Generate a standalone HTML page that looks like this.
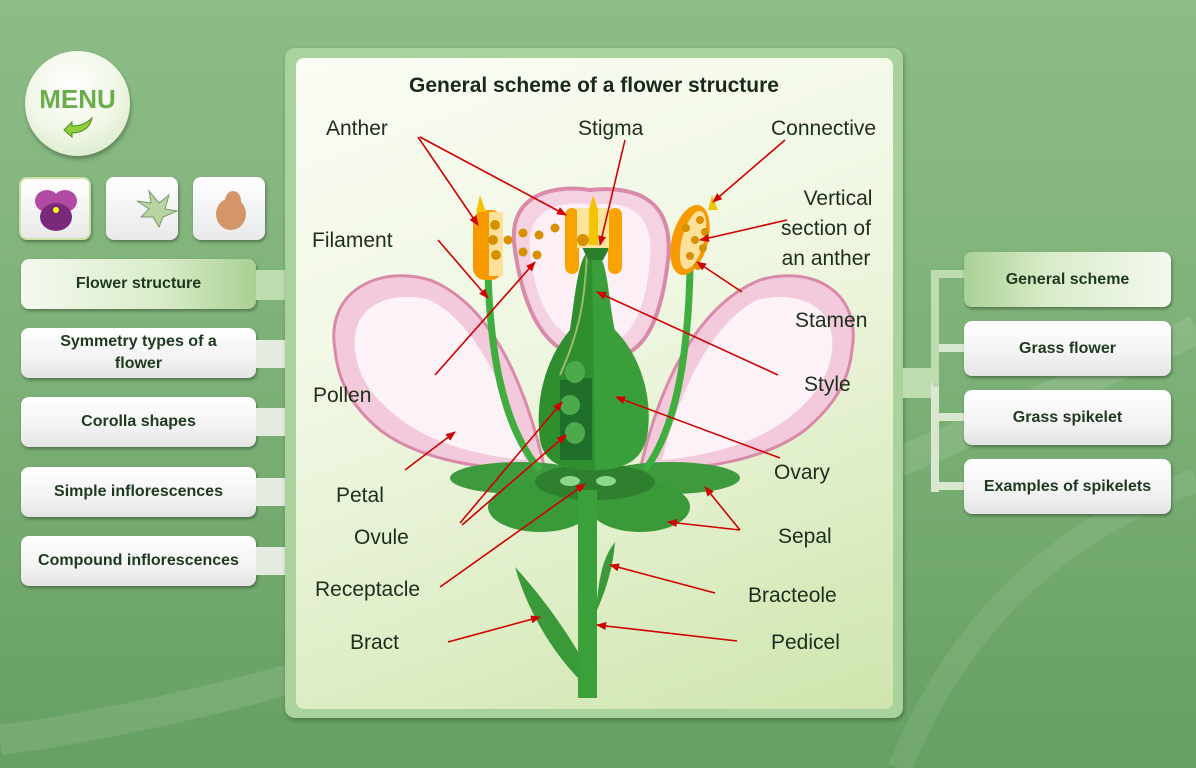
<!DOCTYPE html>
<html><head><meta charset="utf-8"><style>
*{margin:0;padding:0;box-sizing:border-box}
body{width:1196px;height:768px;overflow:hidden;position:relative;font-family:"Liberation Sans",sans-serif;background:linear-gradient(180deg,#8dbd87 0%,#7cb076 50%,#66a062 100%)}
.btn{position:absolute;background:linear-gradient(180deg,#fff 0%,#f3f3f3 60%,#e4e4e4 100%);border-radius:8px;box-shadow:1px 2px 3px rgba(0,0,0,.35);font-weight:bold;font-size:16px;color:#1e3a1e;display:flex;align-items:center;justify-content:center;text-align:center;line-height:22px}
.act{background:linear-gradient(90deg,#f4f9ee 0%,#d9ecc9 60%,#a9d094 100%)}
.tab{position:absolute;background:#e4ebe0;}
.ic{position:absolute;width:72px;height:63px;border-radius:8px;background:linear-gradient(#fff,#e9e9e9);box-shadow:1px 2px 3px rgba(0,0,0,.35)}
</style></head><body>
<svg style="position:absolute;left:0;top:0" width="1196" height="768">
<path d="M0,740 C300,700 700,560 1196,330" stroke="rgba(255,255,255,0.1)" stroke-width="30" fill="none"/>
<path d="M900,768 C960,620 1060,530 1196,480" stroke="rgba(255,255,255,0.08)" stroke-width="24" fill="none"/>
</svg>
<div style="position:absolute;left:25px;top:51px;width:105px;height:105px;border-radius:50%;background:radial-gradient(circle at 45% 35%,#ffffff 0%,#f1f7e8 50%,#cfe4bb 100%);box-shadow:1px 3px 4px rgba(0,0,0,.3)"></div>
<div style="position:absolute;left:25px;top:84px;width:105px;text-align:center;font-weight:bold;font-size:26px;color:#6aae4c">MENU</div>
<svg style="position:absolute;left:58px;top:114px" width="40" height="24"><path d="M6,16 L14,8 L14,12 C24,12 30,8 34,4 C32,14 24,19 14,19 L14,23 Z" fill="#8fcf3a" stroke="#4a8a2a" stroke-width="1"/></svg>
<div class="ic" style="left:19px;top:177px;border:2px solid #cfe0a5"></div>
<div class="ic" style="left:106px;top:177px"></div>
<div class="ic" style="left:193px;top:177px"></div>
<svg style="position:absolute;left:19px;top:177px" width="250" height="63">
<ellipse cx="28" cy="24" rx="12" ry="11" fill="#b04aa5"/><ellipse cx="46" cy="24" rx="12" ry="11" fill="#b04aa5"/><ellipse cx="37" cy="40" rx="16" ry="14" fill="#7a2a7a"/><circle cx="37" cy="33" r="3" fill="#ff0"/>
<path d="M130,14 L140,26 L150,18 L146,32 L158,34 L144,40 L140,50 L134,40 L122,40 L130,32 L118,24 L132,26 Z" fill="#b8d4a0" stroke="#7a9a6a"/>
<ellipse cx="212" cy="37" rx="15" ry="16" fill="#d49568"/><ellipse cx="214" cy="24" rx="8" ry="10" fill="#d49568"/>
</svg>
<div class="btn act" style="left:21px;top:259px;width:235px;height:50px">Flower structure</div>
<div class="btn" style="left:21px;top:328px;width:235px;height:50px">Symmetry types of a<br>flower</div>
<div class="btn" style="left:21px;top:397px;width:235px;height:50px">Corolla shapes</div>
<div class="btn" style="left:21px;top:467px;width:235px;height:50px">Simple inflorescences</div>
<div class="btn" style="left:21px;top:536px;width:235px;height:50px">Compound inflorescences</div>
<div class="tab" style="left:256px;top:270px;width:32px;height:30px;background:#bfdcb0"></div>
<div class="tab" style="left:256px;top:340px;width:30px;height:28px"></div>
<div class="tab" style="left:256px;top:408px;width:30px;height:28px"></div>
<div class="tab" style="left:256px;top:478px;width:30px;height:28px"></div>
<div class="tab" style="left:256px;top:547px;width:30px;height:28px"></div>
<div style="position:absolute;left:285px;top:48px;width:618px;height:670px;border-radius:10px;background:#a9d29c;box-shadow:1px 2px 4px rgba(0,0,0,.3)"></div>
<div style="position:absolute;left:296px;top:58px;width:597px;height:651px;border-radius:8px;background:linear-gradient(160deg,#fbfdf5 0%,#eef6e0 45%,#cfe5ad 100%)"></div>
<svg style="position:absolute;left:900px;top:260px" width="70" height="240">
<rect x="3" y="108" width="30" height="30" fill="#bfdcb0"/>
<path d="M33,123 H35 V14 H66 M35,20 V232 M35,88 H66 M35,157 H66 M35,226 H66" stroke="#d8e8cf" stroke-width="8" fill="none"/>
<path d="M33,123 H35 V14 H66" stroke="#bfdcb0" stroke-width="8" fill="none"/>
</svg>
<div class="btn act" style="left:964px;top:252px;width:207px;height:55px;background:linear-gradient(90deg,#a9d094 0%,#d9ecc9 40%,#f4f9ee 100%)">General scheme</div>
<div class="btn" style="left:964px;top:321px;width:207px;height:55px">Grass flower</div>
<div class="btn" style="left:964px;top:390px;width:207px;height:55px">Grass spikelet</div>
<div class="btn" style="left:964px;top:459px;width:207px;height:55px">Examples of spikelets</div>

<svg style="position:absolute;left:0;top:0" width="1196" height="768" font-family="Liberation Sans, sans-serif">
<defs>
<marker id="ar" markerWidth="10" markerHeight="8" refX="9" refY="4" orient="auto" markerUnits="userSpaceOnUse"><path d="M0,0 L10,4 L0,8 Z" fill="#d00000"/></marker>
</defs>
<text x="594" y="92" text-anchor="middle" font-size="21" font-weight="bold" fill="#1a2a1a">General scheme of a flower structure</text>
<path d="M515,250 C505,190 560,185 590,190 C630,186 675,195 668,260 C660,330 640,360 600,360 C550,360 525,320 515,250 Z" fill="#f4d2e2" stroke="#d88aa8" stroke-width="4"/>
<path d="M530,250 C525,205 570,200 590,205 C625,200 655,210 650,260 C645,320 625,345 600,345 C560,345 535,310 530,250 Z" fill="#fcf0f6"/>
<path d="M335,350 C325,290 380,265 430,280 C480,300 520,360 545,470 C480,470 420,460 380,430 C350,405 338,380 335,350 Z" fill="#f3cadb" stroke="#d88aa8" stroke-width="3"/>
<path d="M355,350 C350,305 390,290 430,300 C470,320 505,380 525,460 C470,455 425,440 395,415 C370,395 358,375 355,350 Z" fill="#fdf2f7"/>
<path d="M852,350 C862,290 810,265 760,280 C710,300 665,360 640,470 C705,470 765,460 805,430 C835,405 849,380 852,350 Z" fill="#f3cadb" stroke="#d88aa8" stroke-width="3"/>
<path d="M832,350 C837,305 797,290 757,300 C717,320 682,380 662,460 C717,455 762,440 792,415 C817,395 829,375 832,350 Z" fill="#fdf2f7"/>
<ellipse cx="520" cy="478" rx="70" ry="16" fill="#3d9a3d"/>
<ellipse cx="670" cy="478" rx="70" ry="16" fill="#3d9a3d"/>
<ellipse cx="540" cy="507" rx="52" ry="25" fill="#3a9a3a"/>
<ellipse cx="640" cy="507" rx="50" ry="25" fill="#3a9a3a"/>
<ellipse cx="595" cy="482" rx="60" ry="18" fill="#2e7f2e"/>
<ellipse cx="570" cy="481" rx="10" ry="5" fill="#8ed68e"/><ellipse cx="606" cy="481" rx="10" ry="5" fill="#8ed68e"/>
<rect x="578" y="490" width="19" height="208" fill="#3aa03a"/>
<path d="M515,567 C530,620 560,660 580,680 L580,655 C565,630 545,600 515,567 Z" fill="#3a9a3a"/>
<path d="M597,600 C600,570 605,555 615,542 C613,565 608,585 597,610 Z" fill="#3a9a3a"/>
<path d="M488,270 C490,360 505,430 540,470" stroke="#3fae3f" stroke-width="7" fill="none"/>
<path d="M690,270 C688,360 675,430 645,470" stroke="#3fae3f" stroke-width="7" fill="none"/>
<path d="M592,250 C578,250 575,300 570,330 C545,360 535,400 540,440 C545,465 565,470 595,470 C625,470 645,460 648,430 C652,395 640,355 615,330 C608,300 608,250 592,250 Z" fill="#3a9e3a"/>
<path d="M592,250 C578,250 575,300 570,330 C545,360 535,400 540,440 C545,465 565,470 595,470 Z" fill="#2f8f2f"/>
<path d="M560,380 L592,378 L592,460 L560,460 Z" fill="#1f6e2a"/>
<ellipse cx="575" cy="372" rx="10" ry="11" fill="#4caa4c"/><ellipse cx="570" cy="405" rx="10" ry="10" fill="#4caa4c"/><ellipse cx="575" cy="433" rx="10" ry="11" fill="#4caa4c"/>
<path d="M587,252 C585,300 580,330 560,375" stroke="#9dbb6a" stroke-width="2" fill="none"/>
<path d="M582,247 L610,247 L603,260 L588,260 Z" fill="#2a7f2a"/>
<rect x="565" y="208" width="14" height="66" rx="7" fill="#f7a400"/><rect x="608" y="208" width="14" height="66" rx="7" fill="#f7a400"/>
<rect x="577" y="208" width="32" height="40" fill="#fde49a"/>
<path d="M593,195 L598,210 L598,245 L589,245 L589,210 Z" fill="#f5c400"/>
<circle cx="583" cy="240" r="6" fill="#d89000"/>
<rect x="473" y="210" width="30" height="70" rx="12" fill="#f79a00"/><rect x="489" y="212" width="14" height="64" fill="#ffe09a"/>
<path d="M480,195 L486,212 L476,212 Z" fill="#f5c400"/>
<ellipse cx="690" cy="240" rx="18" ry="36" transform="rotate(15 690 240)" fill="#f79a00"/>
<ellipse cx="693" cy="240" rx="11" ry="30" transform="rotate(15 693 240)" fill="#ffe09a"/>
<path d="M712,195 L718,210 L708,210 Z" fill="#f5c400"/>
<g fill="#d69000">
<circle cx="495" cy="225" r="5"/><circle cx="493" cy="240" r="5"/><circle cx="496" cy="255" r="5"/><circle cx="508" cy="240" r="4.5"/><circle cx="523" cy="233" r="4.5"/><circle cx="523" cy="252" r="4.5"/><circle cx="539" cy="235" r="4.5"/><circle cx="555" cy="228" r="4.5"/><circle cx="537" cy="255" r="4.5"/>
<circle cx="700" cy="220" r="4"/><circle cx="705" cy="232" r="4"/><circle cx="695" cy="240" r="4"/><circle cx="703" cy="248" r="4"/><circle cx="690" cy="256" r="4"/><circle cx="698" cy="266" r="4"/><circle cx="686" cy="228" r="4"/>
</g>
<g font-size="21" fill="#1c2e1c">
<text x="326" y="135">Anther</text><text x="578" y="135">Stigma</text><text x="771" y="135">Connective</text>
<text x="838" y="205" text-anchor="middle">Vertical</text><text x="826" y="235" text-anchor="middle">section of</text><text x="826" y="265" text-anchor="middle">an anther</text>
<text x="312" y="247">Filament</text><text x="795" y="327">Stamen</text><text x="313" y="402">Pollen</text><text x="804" y="391">Style</text>
<text x="774" y="479">Ovary</text><text x="336" y="502">Petal</text><text x="354" y="544">Ovule</text><text x="778" y="543">Sepal</text>
<text x="315" y="596">Receptacle</text><text x="748" y="602">Bracteole</text><text x="350" y="649">Bract</text><text x="771" y="649">Pedicel</text>
</g>
<g stroke="#d00000" stroke-width="1.6" marker-end="url(#ar)" fill="none">
<line x1="418" y1="137" x2="478" y2="225"/><line x1="420" y1="137" x2="566" y2="215"/>
<line x1="625" y1="140" x2="600" y2="245"/><line x1="785" y1="140" x2="713" y2="202"/>
<line x1="787" y1="220" x2="700" y2="240"/><line x1="438" y1="240" x2="488" y2="298"/>
<line x1="742" y1="292" x2="697" y2="262"/><line x1="435" y1="375" x2="535" y2="262"/>
<line x1="778" y1="375" x2="597" y2="292"/><line x1="780" y1="458" x2="616" y2="397"/>
<line x1="405" y1="470" x2="455" y2="432"/>
<line x1="460" y1="523" x2="562" y2="402"/><line x1="462" y1="525" x2="566" y2="435"/>
<line x1="740" y1="530" x2="705" y2="487"/><line x1="740" y1="530" x2="668" y2="522"/>
<line x1="440" y1="587" x2="585" y2="484"/><line x1="715" y1="593" x2="610" y2="565"/>
<line x1="448" y1="642" x2="540" y2="617"/><line x1="737" y1="641" x2="597" y2="625"/>
</g>
</svg>
</body></html>
